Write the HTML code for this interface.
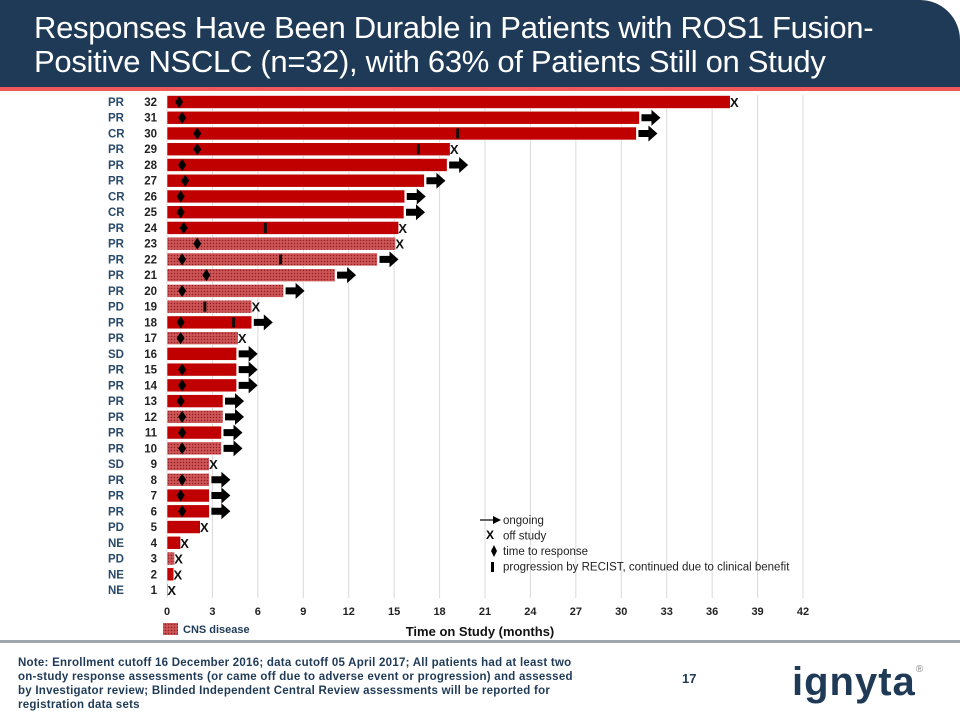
<!DOCTYPE html>
<html><head><meta charset="utf-8">
<style>
body{margin:0;width:960px;height:720px;overflow:hidden;background:#fff;font-family:"Liberation Sans",sans-serif;position:relative}
#hdr{position:absolute;left:0;top:0;width:960px;height:87px;background:#1f3a57;border-top-right-radius:40px}
#hdr h1{margin:0;position:absolute;left:34px;top:11px;color:#fff;font-weight:normal;font-size:31px;line-height:34px;letter-spacing:-0.3px}
#redline{position:absolute;left:0;top:87px;width:960px;height:4px;background:#f0585a}
#footline{position:absolute;left:0;top:640px;width:960px;height:3px;background:#a0a8ad}
#note{position:absolute;left:18px;top:656px;width:572px;font-size:11.5px;font-weight:bold;color:#1f3a57;line-height:14px;letter-spacing:0.25px}
#pg{position:absolute;left:682px;top:671px;font-size:13px;font-weight:bold;color:#1f3a57}
#logo{position:absolute;left:792px;top:660px;font-size:40px;font-weight:bold;color:#1f3a57;letter-spacing:1px}
#logo sup{font-size:10px;color:#888;font-weight:normal;vertical-align:top;position:relative;top:4px}
svg{position:absolute;left:0;top:0}
</style></head><body>
<div id="hdr"><h1>Responses Have Been Durable in Patients with ROS1 Fusion-<br>Positive NSCLC (n=32), with 63% of Patients Still on Study</h1></div>
<div id="redline"></div>
<svg id="chart" width="960" height="640">
<defs><pattern id="cns" width="3" height="3" patternUnits="userSpaceOnUse"><rect width="3" height="3" fill="#c64a4c"/><rect width="1" height="1" fill="#8e1f22"/><rect x="1.5" y="1.5" width="1" height="1" fill="#e07e80"/></pattern></defs>
</svg>
<div id="footline"></div>
<div id="note">Note: Enrollment cutoff 16 December 2016; data cutoff 05 April 2017; All patients had at least two on-study response assessments (or came off due to adverse event or progression) and assessed by Investigator review; Blinded Independent Central Review assessments will be reported for registration data sets</div>
<div id="pg">17</div>
<div id="logo">ignyta<sup>®</sup></div>
<script>
const patients=[1,2,3,4,5,6,7,8,9,10,11,12,13,14,15,16,17,18,19,20,21,22,23,24,25,26,27,28,29,30,31,32];
const responses=["NE","NE","PD","NE","PD","PR","PR","PR","SD","PR","PR","PR","PR","PR","PR","SD","PR","PR","PD","PR","PR","PR","PR","PR","CR","CR","PR","PR","PR","CR","PR","PR"];
const durations=[0.05,0.45,0.5,0.9,2.2,2.8,2.8,2.8,2.8,3.6,3.6,3.7,3.7,4.6,4.6,4.6,4.7,5.6,5.6,7.7,11.1,13.9,15.1,15.3,15.65,15.7,17.0,18.5,18.7,31.0,31.2,37.2];
const ongoing=[0,0,0,0,0,1,1,1,0,1,1,1,1,1,1,1,0,1,0,1,1,1,0,0,1,1,1,1,0,1,1,0];
const cns=[0,0,1,0,0,0,0,1,1,1,0,1,0,0,0,0,1,0,1,1,1,1,1,0,0,0,0,0,0,0,0,0];
const responseTime=[null,null,null,null,null,1.0,0.9,1.0,null,1.0,1.0,1.0,0.9,1.0,1.0,null,0.9,0.9,null,1.0,2.6,1.0,2.0,1.1,0.9,0.9,1.2,1.0,2.0,2.0,1.0,0.8];
const progression=[null,null,null,null,null,null,null,null,null,null,null,null,null,null,null,null,null,4.4,2.5,null,null,7.5,null,6.5,null,null,null,null,16.6,19.2,null,null];
const xTicks=[0,3,6,9,12,15,18,21,24,27,30,33,36,39,42];

const svg=document.getElementById('chart');const NS='http://www.w3.org/2000/svg';
const X=v=>167+v*(636/42);
const Y=p=>590-(p-1)*(488/31);
function mk(t,a){const e=document.createElementNS(NS,t);for(const k in a)e.setAttribute(k,a[k]);svg.appendChild(e);return e;}
xTicks.forEach(t=>{
  const g=mk('line',{x1:X(t),x2:X(t),y1:95,y2:598,stroke:'#d9d9d9','stroke-width':1});
  
  
  const l=mk('text',{x:X(t),y:615,'text-anchor':'middle','font-size':11,'font-weight':'bold',fill:'#222'});l.textContent=t;
  
  
});
const xt=mk('text',{x:480,y:636,'text-anchor':'middle','font-size':13,'font-weight':'bold',fill:'#111'});xt.textContent='Time  on Study (months)';


patients.forEach((p,i)=>{
  const y=Y(p);
  const r=mk('text',{x:108,y:y+4,'font-size':11.5,'font-weight':'bold',fill:'#2a4a6a'});r.textContent=responses[i];
  
  
  const n=mk('text',{x:157,y:y+4,'text-anchor':'end','font-size':11.5,'font-weight':'bold',fill:'#222'});n.textContent=p;
  
  
  const b=mk('rect',{x:X(0),y:y-6.5,width:Math.max(1,X(durations[i])-X(0)),height:13,fill:cns[i]?'url(#cns)':'#c00000',stroke:'#fff','stroke-width':0.6});
  
  
  const e=X(durations[i]);
  if(ongoing[i]){
    const a=mk('polygon',{points:`${e+2},${y-3.5} ${e+12},${y-3.5} ${e+12},${y-8} ${e+21},${y} ${e+12},${y+8} ${e+12},${y+3.5} ${e+2},${y+3.5}`,fill:'#000'});
    
    
  } else {
    const x=mk('text',{x:e+4,y:y+5,'text-anchor':'middle','font-size':13,'font-weight':'bold',fill:'#111'});x.textContent='X';
    
    
  }
  if(responseTime[i]!=null){const c=X(responseTime[i]);
    const d=mk('polygon',{points:`${c},${y-6} ${c+4},${y} ${c},${y+6} ${c-4},${y}`,fill:'#000'});
    
    }
  if(progression[i]!=null){
    const q=mk('rect',{x:X(progression[i])-1.5,y:y-5,width:3,height:10,fill:'#111'});
    
    }
});
const lg=[['ongoing',0],['off study',1],['time to response',2],['progression by RECIST, continued due to clinical benefit',3]];
lg.forEach((L,k)=>{const y=520+k*15.5;
  const t=mk('text',{x:503,y:y+4,'font-size':11.5,fill:'#222'});t.textContent=L[0];
  
  });
mk('line',{x1:480,x2:495,y1:520,y2:520,stroke:'#000','stroke-width':1.2});
mk('polygon',{points:'493,516 501,520 493,524',fill:'#000'});
const lx=mk('text',{x:490,y:539,'font-size':12,'font-weight':'bold','text-anchor':'middle',fill:'#000'});lx.textContent='X';
mk('polygon',{points:'494,545 497,551 494,557 491,551',fill:'#000'});
mk('rect',{x:491,y:562,width:3,height:10,fill:'#000'});
const cs=mk('rect',{x:163,y:623,width:15,height:12,fill:'url(#cns)'});


const ct=mk('text',{x:183,y:633,'font-size':11,'font-weight':'bold',fill:'#1f3a57'});ct.textContent='CNS disease';


</script>
</body></html>
